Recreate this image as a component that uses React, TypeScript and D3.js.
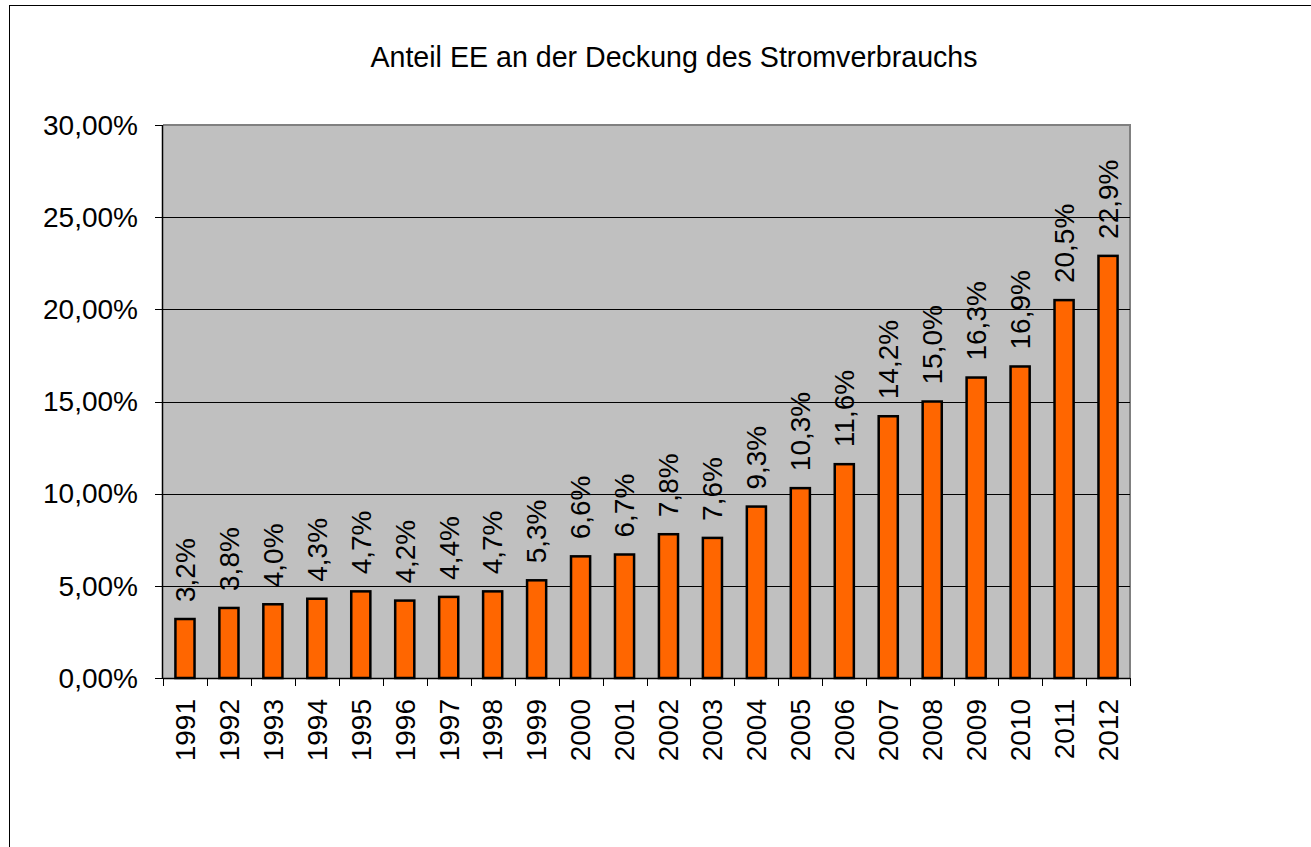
import { useEffect, useRef } from 'react';
import * as d3 from 'd3';

// data
const years = [
  '1991', '1992', '1993', '1994', '1995', '1996', '1997', '1998', '1999', '2000', '2001',
  '2002', '2003', '2004', '2005', '2006', '2007', '2008', '2009', '2010', '2011', '2012',
];
const shares = [
  3.2, 3.8, 4.0, 4.3, 4.7, 4.2, 4.4, 4.7, 5.3, 6.6, 6.7,
  7.8, 7.6, 9.3, 10.3, 11.6, 14.2, 15.0, 16.3, 16.9, 20.5, 22.9,
];
const yTicks = [0, 5, 10, 15, 20, 25, 30];
const title = 'Anteil EE an der Deckung des Stromverbrauchs';

const W = 1311;
const H = 847;
const FONT = '"Liberation Sans", Arial, sans-serif';

const deComma = (v: number, digits: number) => v.toFixed(digits).replace('.', ',');

const App = () => {
  const svgRef = useRef<SVGSVGElement>(null);

  useEffect(() => {
    const svg = d3.select(svgRef.current);
    svg.selectAll('*').remove();

    const plot = { left: 163, right: 1130, top: 125, bottom: 678 };

    // chart frame (runs past the right and bottom edge of the picture)
    svg.append('rect')
      .attr('x', 9.5).attr('y', 5.5)
      .attr('width', 1400).attr('height', 1000)
      .attr('fill', '#fff').attr('stroke', '#000').attr('stroke-width', 1);

    svg.append('text')
      .attr('x', 674).attr('y', 67)
      .attr('text-anchor', 'middle')
      .attr('font-family', FONT).attr('font-size', 28.6)
      .text(title);

    const x = d3.scaleBand<string>()
      .domain(years)
      .range([plot.left, plot.right])
      .paddingInner(0)
      .paddingOuter(0);

    const y = d3.scaleLinear()
      .domain([0, 30])
      .range([plot.bottom, plot.top]);

    // plot area
    svg.append('rect')
      .attr('x', plot.left).attr('y', plot.top)
      .attr('width', plot.right - plot.left).attr('height', plot.bottom - plot.top)
      .attr('fill', '#c0c0c0');

    svg.append('path')
      .attr('d', `M${plot.left},${plot.top}H${plot.right}V${plot.bottom}`)
      .attr('fill', 'none').attr('stroke', '#808080').attr('stroke-width', 2);

    // gridlines
    svg.append('g')
      .selectAll('line')
      .data(yTicks.filter((t) => t > 0 && t < 30))
      .enter()
      .append('line')
      .attr('x1', plot.left).attr('x2', plot.right)
      .attr('y1', (d) => Math.round(y(d)) + 0.5).attr('y2', (d) => Math.round(y(d)) + 0.5)
      .attr('stroke', '#000').attr('stroke-width', 1);

    // bars (gap width 130%)
    const barW = x.bandwidth() / 2.3;
    svg.append('g')
      .selectAll('rect')
      .data(shares)
      .enter()
      .append('rect')
      .attr('x', (_d, i) => x(years[i])! + (x.bandwidth() - barW) / 2)
      .attr('y', (d) => y(d))
      .attr('width', barW)
      .attr('height', (d) => plot.bottom - y(d))
      .attr('fill', '#ff6600')
      .attr('stroke', '#000')
      .attr('stroke-width', 2.5);

    // data labels, rotated
    svg.append('g')
      .selectAll('text')
      .data(shares)
      .enter()
      .append('text')
      .attr('transform', (d, i) =>
        `translate(${x(years[i])! + x.bandwidth() / 2},${y(d) - 17}) rotate(-90)`)
      .attr('dy', '0.35em')
      .attr('font-family', FONT).attr('font-size', 28)
      .text((d) => `${deComma(d, 1)}%`);

    // y axis
    const yAxis = svg.append('g');
    yAxis.append('line')
      .attr('x1', plot.left - 0.5).attr('x2', plot.left - 0.5)
      .attr('y1', plot.top).attr('y2', plot.bottom)
      .attr('stroke', '#000').attr('stroke-width', 1.5);
    yAxis.selectAll('line.tick')
      .data(yTicks)
      .enter()
      .append('line')
      .attr('class', 'tick')
      .attr('x1', plot.left - 8).attr('x2', plot.left)
      .attr('y1', (d) => Math.round(y(d)) + 0.5).attr('y2', (d) => Math.round(y(d)) + 0.5)
      .attr('stroke', '#000');
    yAxis.selectAll('text')
      .data(yTicks)
      .enter()
      .append('text')
      .attr('x', 138).attr('y', (d) => y(d))
      .attr('dy', '0.35em')
      .attr('text-anchor', 'end')
      .attr('font-family', FONT).attr('font-size', 28)
      .text((d) => `${deComma(d, 2)}%`);

    // x axis
    const xAxis = svg.append('g');
    xAxis.append('line')
      .attr('x1', plot.left).attr('x2', plot.right)
      .attr('y1', plot.bottom + 0.5).attr('y2', plot.bottom + 0.5)
      .attr('stroke', '#000').attr('stroke-width', 1.5);
    const edges = [...years.map((yr) => x(yr)!), plot.right];
    xAxis.selectAll('line.tick')
      .data(edges)
      .enter()
      .append('line')
      .attr('class', 'tick')
      .attr('x1', (d) => Math.round(d) + 0.5).attr('x2', (d) => Math.round(d) + 0.5)
      .attr('y1', plot.bottom).attr('y2', plot.bottom + 8)
      .attr('stroke', '#000');
    xAxis.selectAll('text')
      .data(years)
      .enter()
      .append('text')
      .attr('transform', (d) => `translate(${x(d)! + x.bandwidth() / 2},699) rotate(-90)`)
      .attr('dy', '0.35em')
      .attr('text-anchor', 'end')
      .attr('font-family', FONT).attr('font-size', 28)
      .text((d) => d);
  }, []);

  return (
    <svg
      ref={svgRef}
      width={W}
      height={H}
      style={{ position: 'absolute', left: 0, top: 0, overflow: 'hidden' }}
    />
  );
};

export default App;
